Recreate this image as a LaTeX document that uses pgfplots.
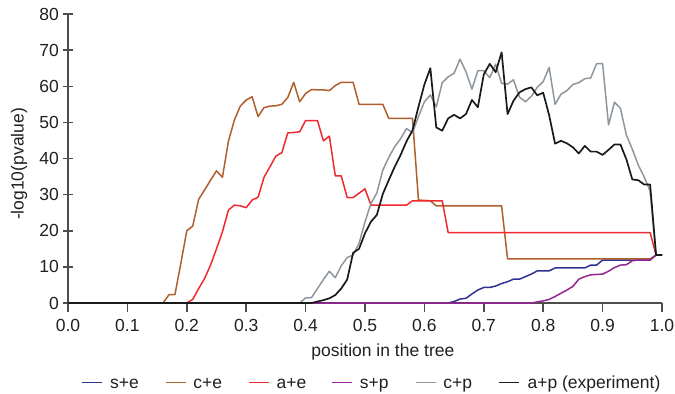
\documentclass[border=0pt]{standalone}
\usepackage{fontspec}
\setmainfont{Liberation Sans}
\usepackage{pgfplots}
\pgfplotsset{compat=1.18}
\definecolor{colse}{HTML}{2E3192}
\definecolor{colce}{HTML}{B05E2C}
\definecolor{colae}{HTML}{EE2A2E}
\definecolor{colsp}{HTML}{93278F}
\definecolor{colcp}{HTML}{8E969D}
\definecolor{colap}{HTML}{1A1A1A}
\definecolor{axgray}{HTML}{4D4D4D}
\definecolor{txtcol}{HTML}{231F20}
\newcommand{\lent}[1]{\makebox[30.9pt][l]{\hspace*{3.5pt}#1}}
\begin{document}
\begin{tikzpicture}[font=\fontsize{8.75}{10.5}\selectfont, text=txtcol]
\useasboundingbox (-34pt,-45pt) rectangle (303.5pt,151.5pt);
\begin{axis}[
  at={(0pt,0pt)}, anchor=south west, scale only axis,
  width=297pt, height=144.5pt,
  xmin=0, xmax=1, ymin=0, ymax=80,
  clip=false,
  axis lines=left,
  axis line style={-, draw=axgray, line width=0.75pt},
  tick style={draw=axgray, line width=0.75pt},
  major tick length=4.5pt,
  xtick align=outside,
  ytick align=center,
  xtick={0,0.1,0.2,0.3,0.4,0.5,0.6,0.7,0.8,0.9,1.0},
  xticklabels={0.0,0.1,0.2,0.3,0.4,0.5,0.6,0.7,0.8,0.9,1.0},
  ytick={0,10,20,30,40,50,60,70,80},
  yticklabel style={xshift=1.2pt},
  /pgf/number format/assume math mode=true,
  xlabel={position in the tree},
  ylabel={-log10(pvalue)},
  every axis x label/.style={at={(axis description cs:0.530,0)}, yshift=-24.5pt, anchor=center},
  every axis y label/.style={at={(axis description cs:0,0.481)}, xshift=-24.5pt, rotate=90, anchor=center},
  legend columns=6,
  legend image code/.code={\draw[#1, line width=0.75pt] (0pt,0pt) -- (10pt,0pt);},
  legend style={at={(axis description cs:0,0)}, anchor=west, xshift=6.6pt, yshift=-39.8pt,
    draw=none, fill=none, inner sep=0pt, column sep=0pt,
    nodes={inner sep=0pt, anchor=west, text height=0.55em, text depth=0pt}},
  every axis plot/.append style={line width=0.75pt, mark=none, line join=round},
]
% s+e
\addplot[colse] coordinates {(0,0) (0.64,0) (0.65,0.4) (0.66,1.1) (0.67,1.3) (0.68,2.5) (0.69,3.6) (0.70,4.3) (0.71,4.3) (0.72,4.7) (0.73,5.4) (0.74,5.9) (0.75,6.6) (0.76,6.6) (0.77,7.3) (0.78,8.0) (0.79,8.9) (0.80,8.9) (0.81,8.9) (0.82,9.7) (0.83,9.7) (0.84,9.7) (0.85,9.7) (0.86,9.7) (0.87,9.7) (0.88,10.5) (0.89,10.5) (0.90,11.9) (0.91,11.9) (0.92,11.9) (0.93,11.9) (0.94,11.9) (0.95,11.9) (0.96,11.9) (0.97,11.9) (0.98,11.9) (0.99,13.3) (1.0,13.3)};
\addlegendentry{\lent{s+e}}
% c+e
\addplot[colce] coordinates {(0,0) (0.16,0) (0.17,2.3) (0.18,2.3) (0.19,11) (0.20,20) (0.21,21.3) (0.22,28.7) (0.23,31.3) (0.24,34.0) (0.25,36.6) (0.26,34.8) (0.27,44.7) (0.28,50.6) (0.29,54.5) (0.30,56.2) (0.31,57.1) (0.32,51.6) (0.33,54.1) (0.34,54.5) (0.35,54.6) (0.36,55.0) (0.37,56.9) (0.38,61.1) (0.39,55.7) (0.40,58.0) (0.41,59.1) (0.42,59.0) (0.43,59.0) (0.44,58.8) (0.45,60.2) (0.46,61.1) (0.47,61.1) (0.48,61.1) (0.49,55.0) (0.50,55.0) (0.51,55.0) (0.52,55.0) (0.53,55.0) (0.54,51.1) (0.55,51.1) (0.56,51.1) (0.57,51.1) (0.58,51.1) (0.59,28.5) (0.60,28.4) (0.61,28.3) (0.62,26.9) (0.73,26.9) (0.74,12.2) (0.98,12.2) (0.99,13.3) (1.0,13.3)};
\addlegendentry{\lent{c+e}}
% a+e
\addplot[colae] coordinates {(0,0) (0.20,0) (0.21,1.0) (0.22,4.0) (0.23,6.8) (0.24,10.5) (0.25,15.0) (0.26,19.7) (0.27,25.7) (0.28,27.1) (0.29,26.9) (0.30,26.4) (0.31,28.5) (0.32,29.3) (0.33,34.8) (0.34,37.7) (0.35,40.7) (0.36,41.6) (0.37,47.1) (0.38,47.2) (0.39,47.4) (0.40,50.5) (0.41,50.5) (0.42,50.5) (0.43,44.9) (0.44,46.2) (0.45,35.2) (0.46,35.2) (0.47,29.2) (0.48,29.2) (0.49,30.4) (0.50,31.6) (0.51,27.1) (0.57,27.1) (0.58,28.3) (0.63,28.3) (0.64,19.5) (0.98,19.5) (0.99,13.3) (1.0,13.3)};
\addlegendentry{\lent{a+e}}
% s+p
\addplot[colsp] coordinates {(0,0) (0.78,0) (0.79,0.3) (0.80,0.6) (0.81,1.0) (0.82,1.8) (0.83,2.7) (0.84,3.6) (0.85,4.6) (0.86,6.6) (0.87,7.3) (0.88,7.8) (0.89,7.9) (0.90,8.0) (0.91,8.8) (0.92,9.8) (0.93,10.5) (0.94,10.6) (0.95,11.7) (0.96,11.9) (0.97,11.9) (0.98,11.9) (0.99,13.3) (1.0,13.3)};
\addlegendentry{\lent{s+p}}
% c+p
\addplot[colcp] coordinates {(0,0) (0.39,0) (0.40,1.4) (0.41,1.5) (0.42,4.0) (0.43,6.5) (0.44,8.8) (0.45,7.0) (0.46,10.3) (0.47,12.6) (0.48,13.3) (0.49,16.5) (0.50,22.5) (0.51,27.5) (0.52,30.5) (0.53,36.8) (0.54,40.3) (0.55,43.3) (0.56,45.5) (0.57,48.3) (0.58,47.1) (0.59,51.6) (0.60,55.7) (0.61,57.6) (0.62,54.3) (0.63,61.0) (0.64,62.6) (0.65,63.6) (0.66,67.5) (0.67,64.0) (0.68,59.2) (0.69,64.3) (0.70,64.3) (0.71,62.4) (0.72,66.1) (0.73,60.8) (0.74,60.6) (0.75,61.8) (0.76,57.0) (0.77,55.7) (0.78,57.2) (0.79,59.7) (0.80,61.3) (0.81,65.2) (0.82,55.0) (0.83,57.8) (0.84,58.8) (0.85,60.5) (0.86,61.0) (0.87,62.1) (0.88,62.3) (0.89,66.3) (0.90,66.3) (0.91,49.3) (0.92,55.6) (0.93,53.9) (0.94,46.5) (0.95,42.6) (0.96,38.2) (0.97,34.9) (0.98,31.0) (0.99,13.3) (1.0,13.3)};
\addlegendentry{\lent{c+p}}
% a+p
\addplot[colap, line width=0.85pt] coordinates {(0,0) (0.41,0) (0.42,0.4) (0.43,0.8) (0.44,1.3) (0.45,2.2) (0.46,4.0) (0.47,6.5) (0.48,13.9) (0.49,15.0) (0.50,19.3) (0.51,22.5) (0.52,24.4) (0.53,30.2) (0.54,34.0) (0.55,37.7) (0.56,41.0) (0.57,44.8) (0.58,47.8) (0.59,54.3) (0.60,60.5) (0.61,65.0) (0.62,48.6) (0.63,47.7) (0.64,51.1) (0.65,52.1) (0.66,51.1) (0.67,52.3) (0.68,56.2) (0.69,54.2) (0.70,63.3) (0.71,66.2) (0.72,63.9) (0.73,69.4) (0.74,52.3) (0.75,56.0) (0.76,58.3) (0.77,59.2) (0.78,59.7) (0.79,57.5) (0.80,58.2) (0.81,52.0) (0.82,44.1) (0.83,44.9) (0.84,44.2) (0.85,43.1) (0.86,41.4) (0.87,43.5) (0.88,41.9) (0.89,41.9) (0.90,41.0) (0.91,42.4) (0.92,43.9) (0.93,43.9) (0.94,39.8) (0.95,34.2) (0.96,34.0) (0.97,32.8) (0.98,32.8) (0.99,13.3) (1.0,13.3)};
\addlegendentry{\makebox[0pt][l]{\hspace*{3.5pt}a+p (experiment)}}
\end{axis}
\end{tikzpicture}
\end{document}
